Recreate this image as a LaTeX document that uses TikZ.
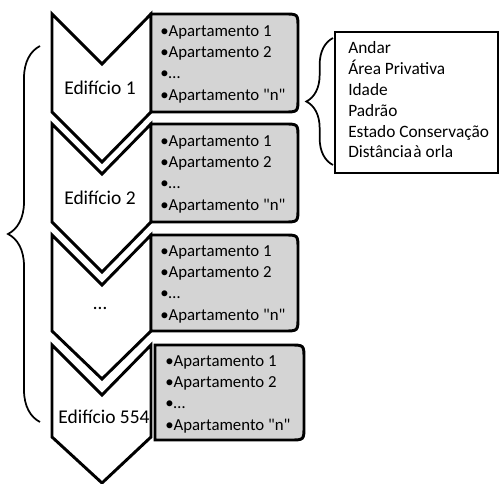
\documentclass[tikz,border=0pt]{standalone}
\usepackage{fontspec}
\setmainfont{Carlito}[Ligatures=TeXOff]
\usepackage{tikz}
\usetikzlibrary{decorations.pathreplacing}
\definecolor{EdGray}{HTML}{D4D4D4}

\begin{document}
\begin{tikzpicture}[x=0.75pt,y=-0.75pt,
  chevron/.style={draw=black,line width=2.2pt,fill=white,line join=miter},
  aptbox/.style={draw=black,line width=2.2pt,fill=EdGray},
  aptlist/.style={anchor=west,align=left,inner sep=0pt,font=\fontsize{12.6}{16}\selectfont},
  edlabel/.style={inner sep=0pt,font=\fontsize{14.6}{17}\selectfont},
  attrbox/.style={draw=black,line width=2.2pt,minimum width=122.25pt,minimum height=105.75pt},
  attrlist/.style={anchor=west,align=left,inner sep=0pt,font=\fontsize{13}{15.6}\selectfont},
  curly/.style={draw=black,line width=1.3pt,decorate,decoration={brace,amplitude=#1}}]
\path[use as bounding box] (0,0) rectangle (500,484);
% chevrons
\draw[chevron] (52,14) -- (102,64) -- (151,14) -- (151,112) -- (102,162) -- (52,112) -- cycle;
\draw[chevron] (52,124) -- (102,174) -- (151,124) -- (151,222) -- (102,272) -- (52,222) -- cycle;
\draw[chevron] (52,235) -- (102,285) -- (151,235) -- (151,331) -- (102,379) -- (52,331) -- cycle;
\draw[chevron] (52,345) -- (102,395) -- (151,345) -- (151,437) -- (102,483) -- (52,437) -- cycle;
% apartment boxes
\draw[aptbox] (151,14) -- (284,14) .. controls (298,14) .. (298,28) -- (298,98) .. controls (298,112) .. (284,112) -- (151,112) -- cycle;
\draw[aptbox] (151,124) -- (284,124) .. controls (298,124) .. (298,138) -- (298,208) .. controls (298,222) .. (284,222) -- (151,222) -- cycle;
\draw[aptbox] (151,235) -- (284,235) .. controls (298,235) .. (298,249) -- (298,317) .. controls (298,331) .. (284,331) -- (151,331) -- cycle;
\draw[aptbox] (155,345) -- (290,345) .. controls (304,345) .. (304,359) -- (304,426) .. controls (304,440) .. (290,440) -- (155,440) -- cycle;
% labels
\node[edlabel] (edA) at (100,88) {Edifício 1};
\node[edlabel] (edB) at (100,198) {Edifício 2};
\node[edlabel] (edC) at (100,308) {…};
\node[edlabel] (edD) at (104,417) {Edifício 554};
\node[aptlist] (lstA) at (160,64) {•Apartamento 1\\•Apartamento 2\\•…\\•Apartamento "n"};
\node[aptlist] (lstB) at (160,174) {•Apartamento 1\\•Apartamento 2\\•…\\•Apartamento "n"};
\node[aptlist] (lstC) at (160,284) {•Apartamento 1\\•Apartamento 2\\•…\\•Apartamento "n"};
\node[aptlist] (lstD) at (165,394) {•Apartamento 1\\•Apartamento 2\\•…\\•Apartamento "n"};
\node[attrbox] (attr) at (416.5,102.5) {};
\node[attrlist] (attrtxt) at (348,100) {Andar\\Área Privativa\\Idade\\Padrão\\Estado Conservação\\Distância\hspace{1pt}à orla};
% braces
\coordinate (bLlow) at (40,422);
\coordinate (bLtop) at (40,46);
\coordinate (bRlow) at (333,165);
\coordinate (bRtop) at (333,38);
\draw[curly=24pt] (bLlow) -- (bLtop);
\draw[curly=20pt] (bRlow) -- (bRtop);
\end{tikzpicture}
\end{document}
